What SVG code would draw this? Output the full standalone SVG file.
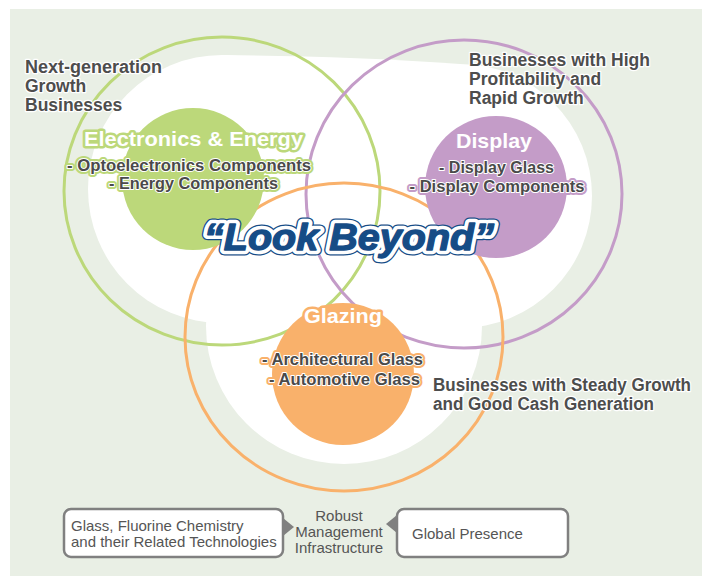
<svg xmlns="http://www.w3.org/2000/svg" width="702" height="576" viewBox="0 0 702 576">
<style>
.ring{fill:none;stroke-width:3}
.lbl{font-family:"Liberation Sans",Arial,sans-serif;font-weight:bold;font-size:17.5px;fill:#4d4d4d;stroke:#ffffff;stroke-width:2.5;paint-order:stroke;stroke-linejoin:round}
.ttl{font-family:"Liberation Sans",Arial,sans-serif;font-weight:bold;font-size:21px;fill:#ffffff;stroke-width:5;paint-order:stroke;stroke-linejoin:round;text-anchor:middle}
.sub{font-family:"Liberation Sans",Arial,sans-serif;font-weight:bold;font-size:16px;text-anchor:middle;stroke-linejoin:round}
.subo{stroke-width:6}
.subi{fill:#4a4a4a;stroke:#ffffff;stroke-width:2;paint-order:stroke}
.g{stroke:#bcd87a}
.p{stroke:#c49cc8}
.o{stroke:#f9b16b}
.box{fill:#ffffff;stroke:#808080;stroke-width:2.5}
.bt{font-family:"Liberation Sans",Arial,sans-serif;font-size:15px;fill:#555555}
.lb{font-family:"Liberation Sans",Arial,sans-serif;font-weight:bold;font-style:italic;font-size:37px;text-anchor:middle;stroke-linejoin:round}
</style>
<rect x="10" y="9" width="692" height="567" fill="#e9efe5"/>
<g id="white-areas" fill="#ffffff">
<circle cx="222" cy="189" r="134"/>
<circle cx="460" cy="196" r="132"/>
<circle cx="344" cy="326" r="138"/>
<path d="M222,55 C300,56 380,58 460,64 L460,200 L222,200 Z"/>
</g>
<g id="rings">
<ellipse class="ring" cx="222" cy="191" rx="158" ry="154" stroke="#bcd87a"/>
<ellipse class="ring" cx="464" cy="194" rx="158" ry="154" stroke="#c49cc8"/>
<ellipse class="ring" cx="344" cy="337" rx="159" ry="154" stroke="#f9b16b"/>
</g>
<g id="electronics-energy">
<circle cx="193" cy="179" r="71" fill="#bcd87a"/>
<text class="ttl g" x="193.5" y="146" textLength="219" lengthAdjust="spacingAndGlyphs">Electronics &amp; Energy</text>
<text class="sub subo g" x="189" y="171" textLength="244" lengthAdjust="spacingAndGlyphs">- Optoelectronics Components</text>
<text class="sub subi" x="189" y="171" textLength="244" lengthAdjust="spacingAndGlyphs">- Optoelectronics Components</text>
<text class="sub subo g" x="193.5" y="189" textLength="169" lengthAdjust="spacingAndGlyphs">- Energy Components</text>
<text class="sub subi" x="193.5" y="189" textLength="169" lengthAdjust="spacingAndGlyphs">- Energy Components</text>
</g>
<g id="display">
<circle cx="496" cy="187" r="71" fill="#c49cc8"/>
<text class="ttl p" x="494" y="148" textLength="76" lengthAdjust="spacingAndGlyphs">Display</text>
<text class="sub subo p" x="496.5" y="173" textLength="115" lengthAdjust="spacingAndGlyphs">- Display Glass</text>
<text class="sub subi" x="496.5" y="173" textLength="115" lengthAdjust="spacingAndGlyphs">- Display Glass</text>
<text class="sub subo p" x="497" y="192" textLength="175" lengthAdjust="spacingAndGlyphs">- Display Components</text>
<text class="sub subi" x="497" y="192" textLength="175" lengthAdjust="spacingAndGlyphs">- Display Components</text>
</g>
<g id="glazing">
<circle cx="343" cy="374" r="71" fill="#f9b16b"/>
<text class="ttl o" x="343" y="323" textLength="78" lengthAdjust="spacingAndGlyphs">Glazing</text>
<text class="sub subo o" x="342.5" y="365" textLength="161" lengthAdjust="spacingAndGlyphs">- Architectural Glass</text>
<text class="sub subi" x="342.5" y="365" textLength="161" lengthAdjust="spacingAndGlyphs">- Architectural Glass</text>
<text class="sub subo o" x="344.5" y="385" textLength="151" lengthAdjust="spacingAndGlyphs">- Automotive Glass</text>
<text class="sub subi" x="344.5" y="385" textLength="151" lengthAdjust="spacingAndGlyphs">- Automotive Glass</text>
</g>
<g id="next-generation-label">
<text class="lbl" x="25" y="73" textLength="137" lengthAdjust="spacingAndGlyphs">Next-generation</text>
<text class="lbl" x="25" y="92">Growth</text>
<text class="lbl" x="25" y="111">Businesses</text>
</g>
<g id="high-profitability-label">
<text class="lbl" x="469" y="66">Businesses with High</text>
<text class="lbl" x="469" y="85">Profitability and</text>
<text class="lbl" x="469" y="104">Rapid Growth</text>
</g>
<g id="steady-growth-label">
<text class="lbl" x="433" y="391" textLength="258" lengthAdjust="spacingAndGlyphs">Businesses with Steady Growth</text>
<text class="lbl" x="433" y="410" textLength="221" lengthAdjust="spacingAndGlyphs">and Good Cash Generation</text>
</g>
<g id="look-beyond">
<text class="lb" x="349" y="250" textLength="290" lengthAdjust="spacingAndGlyphs" fill="#164c86" stroke="#164c86" stroke-width="11">“Look Beyond”</text>
<text class="lb" x="349" y="250" textLength="290" lengthAdjust="spacingAndGlyphs" fill="#164c86" stroke="#ffffff" stroke-width="8.5">“Look Beyond”</text>
<text class="lb" x="349" y="250" textLength="290" lengthAdjust="spacingAndGlyphs" fill="#164c86" stroke="#164c86" stroke-width="1.3">“Look Beyond”</text>
</g>
<g id="connectors" fill="#808080">
<polygon points="283,518 294,527 283,536"/>
<polygon points="397,515 386,524 397,533"/>
</g>
<g id="technologies-box">
<rect class="box" x="64" y="509" width="219" height="48" rx="7"/>
<text class="bt" x="71" y="531">Glass, Fluorine Chemistry</text>
<text class="bt" x="71" y="547">and their Related Technologies</text>
</g>
<g id="management-label">
<text class="bt" x="339" y="521" text-anchor="middle">Robust</text>
<text class="bt" x="339" y="537" text-anchor="middle">Management</text>
<text class="bt" x="339" y="553" text-anchor="middle">Infrastructure</text>
</g>
<g id="global-box">
<rect class="box" x="397" y="509" width="171" height="48" rx="7"/>
<text class="bt" x="412" y="539">Global Presence</text>
</g>
</svg>
